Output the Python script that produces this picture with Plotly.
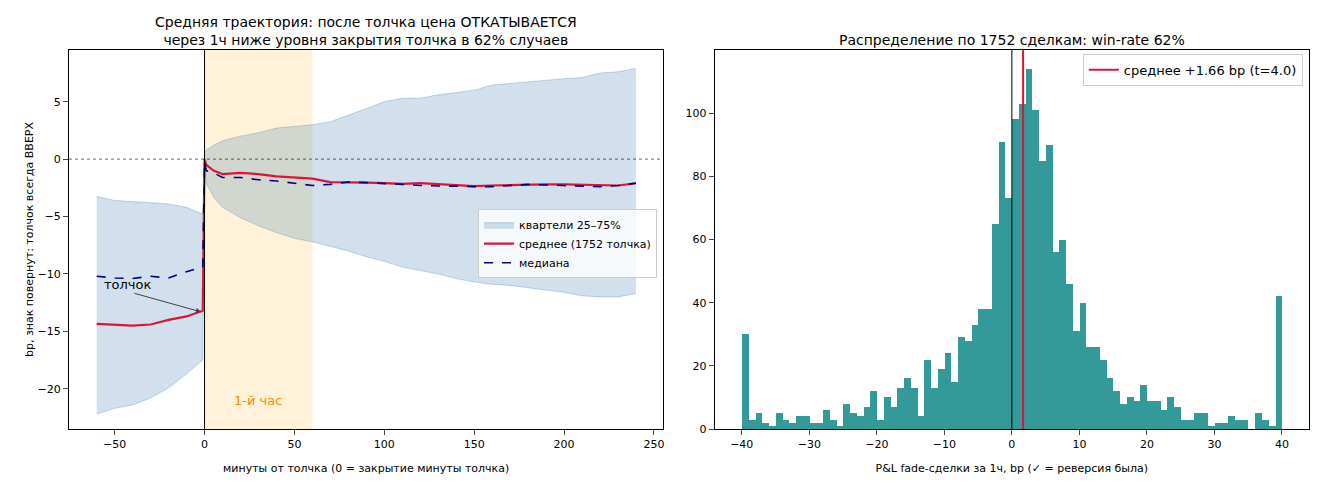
import plotly.graph_objects as go
from plotly.subplots import make_subplots

# minutes from the shock
t = [-60, -50, -40, -30, -20, -10, -1, 0, 1, 5, 10, 20, 30, 40, 50, 60, 70, 80, 90, 100,
     110, 120, 130, 140, 150, 160, 170, 180, 190, 200, 210, 220, 230, 240]
mean = [-14.35, -14.4, -14.5, -14.4, -14.0, -13.7, -13.2, 0.0, -0.5, -1.0, -1.3, -1.2, -1.3, -1.5,
        -1.6, -1.7, -2.0, -2.0, -2.05, -2.1, -2.15, -2.1, -2.2, -2.3, -2.35, -2.3, -2.25, -2.2,
        -2.2, -2.2, -2.25, -2.3, -2.3, -2.1]
median = [-10.2, -10.35, -10.4, -10.2, -10.35, -9.8, -9.4, -0.2, -1.0, -1.2, -1.6, -1.6, -1.8, -1.9,
          -2.1, -2.3, -2.2, -2.0, -2.05, -2.1, -2.2, -2.3, -2.35, -2.4, -2.4, -2.4, -2.3, -2.2,
          -2.25, -2.3, -2.35, -2.4, -2.3, -2.1]
q75 = [-3.25, -3.6, -3.7, -3.8, -3.9, -4.2, -4.8, 0.5, 0.8, 1.2, 1.6, 2.0, 2.3, 2.7, 2.85, 3.0,
       3.25, 3.8, 4.4, 5.0, 5.3, 5.3, 5.6, 5.8, 6.0, 6.45, 6.6, 6.7, 6.9, 7.0, 7.1, 7.5, 7.6, 7.9]
q25 = [-22.2, -21.7, -21.4, -20.8, -19.9, -18.7, -17.5, -0.5, -2.1, -3.3, -4.2, -5.1, -5.8, -6.4,
       -6.9, -7.2, -7.6, -8.0, -8.5, -8.9, -9.4, -9.7, -10.0, -10.4, -10.7, -10.9, -11.0, -11.2,
       -11.4, -11.6, -11.9, -12.0, -12.0, -11.7]

# histogram of P&L, bins of 1 bp from -40 to 40
bin_left = list(range(-40, 40))
counts = [30, 3, 5, 2, 1, 5, 3, 2, 4, 4, 2, 2, 6, 3, 1, 8, 5, 4, 7, 12,
          3, 10, 7, 13, 16, 13, 4, 22, 13, 19, 24, 15, 29, 28, 33, 38, 38, 65, 91, 73,
          98, 103, 114, 101, 85, 90, 56, 60, 46, 31, 40, 26, 26, 22, 16, 12, 8, 10, 9, 14,
          9, 9, 6, 10, 7, 3, 3, 5, 5, 1, 2, 2, 4, 3, 3, 0, 5, 3, 1, 42]
pnl_mean = 1.66

font = "DejaVu Sans"
fig = make_subplots(rows=1, cols=2, horizontal_spacing=0.0415,
                    subplot_titles=["Средняя траектория: после толчка цена ОТКАТЫВАЕТСЯ<br>через 1ч ниже уровня закрытия толчка в 62% случаев",
                                    "Распределение по 1752 сделкам: win-rate 62%"])

fig.add_trace(go.Scatter(x=t, y=q75, mode="lines", line=dict(width=1, color="rgba(70,130,180,0.3)"),
                         showlegend=False, hoverinfo="skip"), 1, 1)
fig.add_trace(go.Scatter(x=t, y=q25, mode="lines", fill="tonexty", fillcolor="rgba(70,130,180,0.25)",
                         line=dict(width=1, color="rgba(70,130,180,0.3)"), name="квартели 25–75%"), 1, 1)
fig.add_trace(go.Scatter(x=t, y=mean, mode="lines", line=dict(color="crimson", width=2.2),
                         name="среднее (1752 толчка)"), 1, 1)
fig.add_trace(go.Scatter(x=t, y=median, mode="lines", line=dict(color="navy", width=1.6, dash="dash"),
                         name="медиана"), 1, 1)

fig.add_trace(go.Bar(x=[b + 0.5 for b in bin_left], y=counts, width=1, marker_color="#339a99",
                     marker_line_width=0, showlegend=False), 1, 2)
fig.add_trace(go.Scatter(x=[None], y=[None], mode="lines", line=dict(color="crimson", width=2),
                         name=f"среднее +{pnl_mean:.2f} bp (t=4.0)", legend="legend2"), 1, 2)

fig.add_vrect(x0=0, x1=60, fillcolor="orange", opacity=0.15, line_width=0, layer="below", row=1, col=1)
fig.add_hline(y=0, line=dict(color="black", width=0.6, dash="dot"), row=1, col=1)
fig.add_vline(x=0, line=dict(color="black", width=1), row=1, col=1)
fig.add_vline(x=0, line=dict(color="black", width=1), row=1, col=2)
fig.add_vline(x=pnl_mean, line=dict(color="crimson", width=2), row=1, col=2)

fig.add_annotation(x=-2, y=-13.3, ax=-57, ay=-10.9, axref="x", ayref="y", xref="x", yref="y",
                   text="толчок", showarrow=True, arrowhead=2, arrowsize=1, arrowwidth=1,
                   xanchor="left", font=dict(size=13, color="black"))
fig.add_annotation(x=30, y=-21, xref="x", yref="y", text="1-й час", showarrow=False,
                   font=dict(size=13, color="darkorange"))

axis_style = dict(showline=True, linecolor="black", mirror=True, ticks="outside", showgrid=False,
                  zeroline=False, tickfont=dict(size=11, color="black"))
fig.update_xaxes(**axis_style)
fig.update_yaxes(**axis_style)
fig.update_xaxes(range=[-75.4, 255.2], tickvals=[-50, 0, 50, 100, 150, 200, 250],
                 title=dict(text="минуты от толчка (0 = закрытие минуты толчка)", font=dict(size=11)), row=1, col=1)
fig.update_yaxes(range=[-23.5, 9.5], tickvals=[-20, -15, -10, -5, 0, 5],
                 title=dict(text="bp, знак повернут: толчок всегда ВВЕРХ", font=dict(size=11)), row=1, col=1)
fig.update_xaxes(range=[-44, 44], tickvals=[-40, -30, -20, -10, 0, 10, 20, 30, 40],
                 title=dict(text="P&L fade-сделки за 1ч, bp (✓ = реверсия была)", font=dict(size=11)), row=1, col=2)
fig.update_yaxes(range=[0, 120], tickvals=[0, 20, 40, 60, 80, 100], row=1, col=2)
fig.layout.annotations[0].font = dict(size=14)
fig.layout.annotations[1].font = dict(size=14)

fig.update_layout(
    width=1320, height=484, template="none", plot_bgcolor="white", paper_bgcolor="white",
    font=dict(family=font, color="black"), bargap=0,
    margin=dict(l=61, r=19, t=42, b=63),
    legend=dict(y=0.58, xanchor="right", yanchor="top", bgcolor="rgba(255,255,255,0.8)",
                traceorder="normal", bordercolor="#cccccc", borderwidth=1, font=dict(size=11)),
    legend2=dict(x=0.995, y=0.99, xanchor="right", yanchor="top", bgcolor="rgba(255,255,255,0.8)",
                 bordercolor="#cccccc", borderwidth=1, font=dict(size=13)),
)
# put the first legend inside the left panel
fig.layout.legend.x = fig.layout.xaxis.domain[1] - 0.005

fig.write_html("out.html")
